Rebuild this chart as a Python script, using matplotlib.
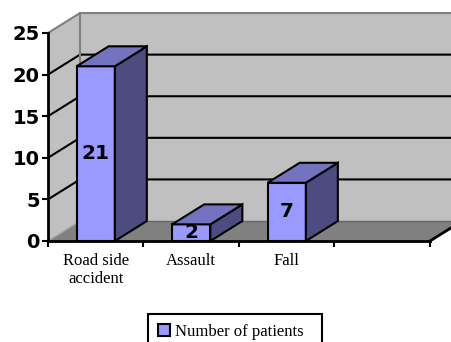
import matplotlib
matplotlib.use("Agg")
import matplotlib.pyplot as plt
from matplotlib.patches import Polygon, Rectangle, Patch

categories = ["Road side\naccident", "Assault", "Fall"]
patients = [21, 2, 7]
y_ticks = [0, 5, 10, 15, 20, 25]
series_name = "Number of patients"

n_slots = 4          # excel leaves one empty slot on the right
ymax = 25
dx, dy = 0.335, 2.4  # depth offset in data units
bar_w = 0.4

front_col = "#9999ff"
side_col = "#4c4c80"
top_col = "#7373bf"
wall_col = "#c0c0c0"
floor_col = "#808080"

fig = plt.figure(figsize=(4.52, 3.42), dpi=100)
ax = fig.add_axes([48 / 452, 101 / 342, 382 / 452, 208 / 342])
ax.set_facecolor("none")
ax.set_xlim(0, n_slots)
ax.set_ylim(0, ymax)

# walls and floor
ax.add_patch(Polygon([(dx, dy), (n_slots + dx, dy), (n_slots + dx, ymax + dy), (dx, ymax + dy)],
                     closed=True, fc=wall_col, ec="none", zorder=0.5, clip_on=False))
ax.add_patch(Polygon([(0, 0), (dx, dy), (dx, ymax + dy), (0, ymax)],
                     closed=True, fc=wall_col, ec="none", zorder=0.5, clip_on=False))
ax.add_patch(Polygon([(0, 0), (n_slots, 0), (n_slots + dx, dy), (dx, dy)],
                     closed=True, fc=floor_col, ec="none", zorder=0.6, clip_on=False))

# gridlines
for v in y_ticks[1:-1]:
    ax.plot([0, dx, n_slots + dx], [v, v + dy, v + dy], color="black", lw=1.5,
            zorder=1, clip_on=False, solid_capstyle="butt")
ax.plot([0, dx, n_slots + dx], [ymax, ymax + dy, ymax + dy], color="#808080", lw=1.5,
        zorder=1, clip_on=False)
ax.plot([dx, dx], [dy, ymax + dy], color="#808080", lw=1.5, zorder=1, clip_on=False)
ax.plot([0, dx], [0, dy], color="#a8a8a8", lw=1, zorder=1, clip_on=False)
ax.plot([dx, n_slots + dx], [dy, dy], color="#666666", lw=1, zorder=1, clip_on=False)
ax.plot([n_slots, n_slots + dx], [0, dy], color="black", lw=2, zorder=1, clip_on=False)

# bars
for i, v in enumerate(patients):
    x0 = i + (1 - bar_w) / 2
    x1 = x0 + bar_w
    ax.add_patch(Rectangle((x0, 0), bar_w, v, fc=front_col, ec="black", lw=1.5, zorder=3))
    ax.add_patch(Polygon([(x1, 0), (x1 + dx, dy), (x1 + dx, v + dy), (x1, v)],
                         closed=True, fc=side_col, ec="black", lw=1.5, zorder=3, clip_on=False))
    ax.text(i + 0.5, v / 2, str(v), ha="center", va="center", fontsize=14.5,
            fontweight="bold", family="DejaVu Sans", zorder=4)
    ax.add_patch(Polygon([(x0, v), (x1, v), (x1 + dx, v + dy), (x0 + dx, v + dy)],
                         closed=True, fc=top_col, ec="black", lw=1.5, zorder=5, clip_on=False))

# axes
for s in ["top", "right"]:
    ax.spines[s].set_visible(False)
ax.spines["left"].set_linewidth(2)
ax.spines["bottom"].set_linewidth(2)
ax.spines["left"].set_zorder(6)
ax.spines["bottom"].set_zorder(6)

ax.set_yticks(y_ticks)
ax.tick_params(axis="y", length=4, width=1.5, pad=2, labelsize=14)
for lab in ax.get_yticklabels():
    lab.set_fontweight("bold")
    lab.set_family("DejaVu Sans")

ax.set_xticks(range(n_slots + 1))
ax.set_xticklabels([])
ax.tick_params(axis="x", which="major", length=4, width=1.5, direction="out")
ax.set_xticks([i + 0.5 for i in range(len(categories))], minor=True)
ax.set_xticklabels(categories, minor=True, fontsize=12, family="Liberation Serif")
ax.tick_params(axis="x", which="minor", length=0, pad=8.5)

handle = Patch(fc=front_col, ec="black", lw=1.5)
fig.legend([handle], [series_name], loc="upper left", mode="expand",
           bbox_to_anchor=(148 / 452, 0, 174 / 452, 1 - 314 / 342), borderaxespad=0,
           borderpad=0.6, handlelength=0.7, handleheight=0.7, handletextpad=0.3,
           fancybox=False, edgecolor="black", framealpha=1,
           prop={"family": "Liberation Serif", "size": 12}).get_frame().set_linewidth(1.5)

fig.savefig("out.png", dpi=100)
